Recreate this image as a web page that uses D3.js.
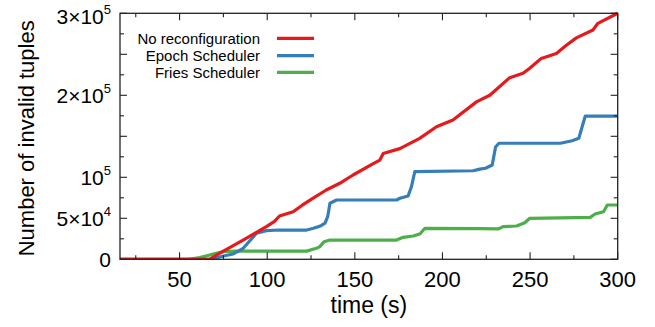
<!DOCTYPE html>
<html>
<head>
<meta charset="utf-8">
<script src="https://cdn.jsdelivr.net/npm/d3@7"></script>
<style>
  html, body { margin: 0; padding: 0; background: #fff; }
  svg { display: block; font-family: "Liberation Sans", Arial, sans-serif; }
</style>
</head>
<body>
<svg id="chart" width="655" height="327"></svg>
<script>
// ---- data (time in s, values in thousands of tuples) ----
const seriesNames = ["No reconfiguration", "Epoch Scheduler", "Fries Scheduler"];
const seriesColors = ["#e41a1c", "#377eb8", "#4daf4a"];

const redTime = [16, 67, 75, 88, 99.5, 104, 107, 114.8, 120, 126, 133.7, 141.4, 149, 160, 164.3, 166.2, 175.7, 187, 196.6, 206, 219.4, 227, 238.4, 246, 249.8, 256.4, 265, 270.7, 276.4, 285.9, 288.7, 300];
const redVals = [0, 0, 10, 25.6, 39.8, 46, 52.8, 58, 66, 74.4, 84.5, 92.7, 102.8, 116, 121, 129, 135, 147.5, 161.7, 170, 192, 200, 221.5, 226.8, 233, 245, 251, 261, 270, 279.6, 287.8, 300];

const blueTime = [16, 68, 75, 80.6, 86.3, 93.9, 99.5, 107, 122.5, 126.4, 130.3, 133, 134.5, 135.8, 139.6, 173.8, 175.7, 180.4, 182.3, 184.2, 217.5, 221.3, 224.6, 228.4, 230.3, 232.2, 267.3, 274, 277.8, 279.7, 281.5, 300];
const blueVals = [0, 0, 4, 6.5, 13.4, 31.7, 35, 35.7, 35.7, 37.8, 40.6, 44, 52, 68.3, 72.3, 72.3, 74.4, 77.2, 88.5, 106.8, 108, 110, 111, 115, 137, 141.5, 141.5, 144.6, 147.5, 161.7, 174.7, 174.7];

const greenTime = [16, 55, 61.6, 69.2, 75, 82.6, 122.5, 128.1, 130, 132.5, 135.7, 173.8, 177.6, 183.3, 187.1, 190, 221.3, 231.8, 234.6, 242.3, 247, 249.8, 284.3, 287.1, 291.9, 294.1, 300];
const greenVals = [0, 0, 2, 6.5, 9.3, 10, 10, 13.4, 15.4, 21.5, 23.5, 23.5, 26.8, 28.4, 30.8, 37.8, 37.5, 37, 39.8, 40.6, 44.6, 50, 51.2, 55.2, 58, 66.2, 66.2];

const xMajorTicks = [50, 100, 150, 200, 250, 300];
const xMinorTicks = [25, 75, 125, 175, 225, 275];
const yMajorTicks = [0, 50, 100, 150, 200, 250, 300];
const yMinorTicks = [25, 75, 125, 175, 225, 275];
// y tick labels: [value, base text, superscript]
const yTickLabels = [[0, "0", ""], [50, "5×10", "4"], [100, "10", "5"], [200, "2×10", "5"], [300, "3×10", "5"]];

const xTitle = "time (s)";
const yTitle = "Number of invalid tuples";

// ---- layout ----
const svg = d3.select("#chart");
const L = 120, R = 617.7, T = 13.3, B = 259.3;
const x = d3.scaleLinear().domain([16, 300]).range([L, R]);
const y = d3.scaleLinear().domain([0, 300]).range([B, T]);
const axisColor = "#222";

const series = [
  { name: seriesNames[0], color: seriesColors[0], t: redTime, v: redVals },
  { name: seriesNames[1], color: seriesColors[1], t: blueTime, v: blueVals },
  { name: seriesNames[2], color: seriesColors[2], t: greenTime, v: greenVals }
];

const line = d3.line().x(d => x(d[0])).y(d => y(d[1])).curve(d3.curveLinear);

svg.append("clipPath").attr("id", "clip").append("rect")
  .attr("x", L).attr("y", T - 3).attr("width", R - L + 2).attr("height", B - T + 3);

// draw order: green, blue, red (red on top)
const gLines = svg.append("g").attr("clip-path", "url(#clip)");
[2, 1, 0].forEach(i => {
  const s = series[i];
  gLines.append("path")
    .datum(s.t.map((t, k) => [t, s.v[k]]))
    .attr("d", line)
    .attr("fill", "none")
    .attr("stroke", s.color)
    .attr("stroke-width", 3.2)
    .attr("stroke-linejoin", "round")
    .attr("stroke-linecap", "butt");
});

// frame
svg.append("rect").attr("x", L).attr("y", T).attr("width", R - L).attr("height", B - T)
  .attr("fill", "none").attr("stroke", axisColor).attr("stroke-width", 1.3);

// ticks (inward, mirrored)
const gT = svg.append("g").attr("stroke", axisColor).attr("stroke-width", 1.1);
const majLen = 7, minLen = 4;
xMajorTicks.forEach(v => {
  gT.append("line").attr("x1", x(v)).attr("x2", x(v)).attr("y1", B).attr("y2", B - majLen);
  gT.append("line").attr("x1", x(v)).attr("x2", x(v)).attr("y1", T).attr("y2", T + majLen);
});
xMinorTicks.forEach(v => {
  gT.append("line").attr("x1", x(v)).attr("x2", x(v)).attr("y1", B).attr("y2", B - minLen);
  gT.append("line").attr("x1", x(v)).attr("x2", x(v)).attr("y1", T).attr("y2", T + minLen);
});
yMajorTicks.forEach(v => {
  gT.append("line").attr("x1", L).attr("x2", L + majLen).attr("y1", y(v)).attr("y2", y(v));
  gT.append("line").attr("x1", R).attr("x2", R - majLen).attr("y1", y(v)).attr("y2", y(v));
});
yMinorTicks.forEach(v => {
  gT.append("line").attr("x1", L).attr("x2", L + minLen).attr("y1", y(v)).attr("y2", y(v));
  gT.append("line").attr("x1", R).attr("x2", R - minLen).attr("y1", y(v)).attr("y2", y(v));
});

// x tick labels
svg.append("g").selectAll("text").data(xMajorTicks).join("text")
  .attr("x", d => x(d)).attr("y", 286.7)
  .attr("text-anchor", "middle").attr("font-size", 22).attr("fill", "#000")
  .text(d => d);

// y tick labels (kept inside the canvas at the top)
const gy = svg.append("g");
yTickLabels.forEach(([v, base, sup]) => {
  const t = gy.append("text")
    .attr("x", 111).attr("y", Math.max(y(v) + 8, 24))
    .attr("text-anchor", "end").attr("font-size", 21).attr("fill", "#000");
  t.append("tspan").text(base);
  if (sup) t.append("tspan").attr("font-size", 13).attr("dy", -10).text(sup);
});

// axis titles
svg.append("text").attr("x", (L + R) / 2).attr("y", 313.3)
  .attr("text-anchor", "middle").attr("font-size", 23).attr("fill", "#000").text(xTitle);
svg.append("text")
  .attr("transform", `translate(33.5, ${(T + B) / 2 + 2}) rotate(-90)`)
  .attr("text-anchor", "middle").attr("font-size", 22).attr("fill", "#000").text(yTitle);

// legend
const legY = [38.3, 55.7, 72.3];
const gl = svg.append("g");
series.forEach((s, i) => {
  gl.append("text").attr("x", 260).attr("y", legY[i])
    .attr("dominant-baseline", "central").attr("text-anchor", "end")
    .attr("font-size", 15).attr("fill", "#000").text(s.name);
  gl.append("line").attr("x1", 277).attr("x2", 314).attr("y1", legY[i]).attr("y2", legY[i])
    .attr("stroke", s.color).attr("stroke-width", 3.2);
});
</script>
</body>
</html>
